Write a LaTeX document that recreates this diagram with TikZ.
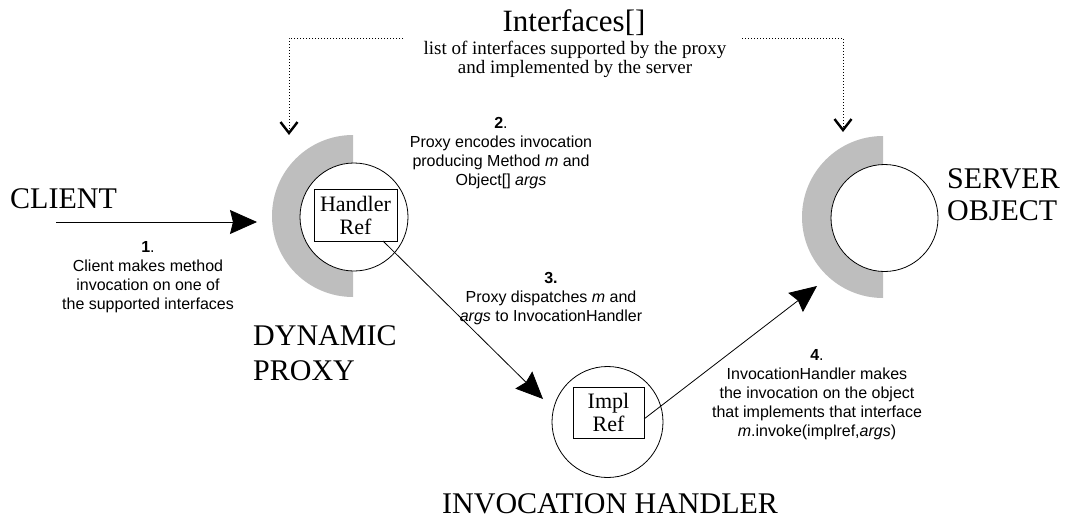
\documentclass[tikz,border=0pt]{standalone}
\usepackage{fontspec}
\setmainfont{Liberation Serif}
\setsansfont{Liberation Sans}
\usetikzlibrary{arrows.meta}
\definecolor{ringgray}{RGB}{190,190,190}
\begin{document}
\begin{tikzpicture}[x=1pt,y=-1pt,
  big/.style={font=\fontsize{30}{35}\selectfont, inner sep=0, anchor=base west},
  note/.style={font=\sffamily\fontsize{16}{19}\selectfont, inner sep=0, anchor=base},
  refbox/.style={draw, line width=0.8pt, inner sep=0, align=center, font=\fontsize{22}{23}\selectfont},
  ring/.style={circle, draw, line width=0.8pt, fill=white, inner sep=0},
  arr/.style={-{Stealth[length=27pt,width=24pt,inset=3pt]}, line width=0.8pt},
  iface/.style={dash pattern=on 1pt off 2pt, line width=0.9pt},
  vtip/.style={-{Straight Barb[length=11pt,width=17pt,line width=2.4pt]}}]
\useasboundingbox (0,0) rectangle (1065,519);

% gray half rings
\begin{scope}
  \clip (260,120) rectangle (353,310);
  \fill[ringgray] (353,216) circle[radius=81];
\end{scope}
\begin{scope}
  \clip (790,120) rectangle (883,310);
  \fill[ringgray] (883,217) circle[radius=81];
\end{scope}

% circles
\node[ring, minimum size=108pt] (proxy) at (354,217) {};
\node[ring, minimum size=107pt] (server) at (884.5,218) {};
\node[ring, minimum size=111pt] (handler) at (607.5,422) {};

% boxes
\node[refbox, minimum width=83pt, minimum height=52pt] (hbox) at (355.5,215) {Handler\\Ref};
\node[refbox, minimum width=71pt, minimum height=51pt] (ibox) at (608.5,412.5) {Impl\\Ref};

% big labels
\node[big] (client) at (10,208) {CLIENT};
\node[big] (dynproxy) at (253,345) {\begin{tabular}[t]{@{}l@{}}DYNAMIC\\PROXY\end{tabular}};
\node[big] (serverlbl) at (947,188) {\begin{tabular}[t]{@{}l@{}}SERVER\\[-3pt]OBJECT\end{tabular}};
\node[big] (ihlbl) at (442,513) {INVOCATION HANDLER};

% title
\node[font=\fontsize{31}{34}\selectfont, anchor=base, inner sep=0] (title) at (574,32) {Interfaces[]};
\node[font=\fontsize{19}{19}\selectfont, anchor=base, inner sep=0] (sub) at (575,55)
  {\begin{tabular}[t]{@{}c@{}}list of interfaces supported by the proxy\\and implemented by the server\end{tabular}};

% notes
\node[note] (n1) at (148,252) {\begin{tabular}[t]{@{}c@{}}\textbf{1}.\\Client makes method\\invocation on one of\\the supported interfaces\end{tabular}};
\node[note] (n2) at (501,128) {\begin{tabular}[t]{@{}c@{}}\textbf{2}.\\Proxy encodes invocation\\producing Method \textit{m} and\\Object[] \textit{args}\end{tabular}};
\node[note] (n3) at (551,283) {\begin{tabular}[t]{@{}c@{}}\textbf{3.}\\Proxy dispatches \textit{m} and\\\textit{args} to InvocationHandler\end{tabular}};
\node[note] (n4) at (817,360) {\begin{tabular}[t]{@{}c@{}}\textbf{4}.\\InvocationHandler makes\\the invocation on the object\\that implements that interface\\\textit{m}.invoke(implref,\textit{args})\end{tabular}};

% connectors
\coordinate (c1s) at (56,222);
\coordinate (c1e) at (257,222);
\draw[arr] (c1s) -- (c1e);

\coordinate (c3s) at (383,241);
\coordinate (c3e) at (543,399);
\draw[arr] (c3s) -- (c3e);

\coordinate (c4s) at (644,419);
\coordinate (c4e) at (817,286);
\draw[arr] (c4s) -- (c4e);

% interface dotted pointers
\coordinate (d1s) at (403,38);
\coordinate (d1e) at (289,135);
\draw[iface, vtip] (d1s) -| (d1e);
\coordinate (d2s) at (742,38);
\coordinate (d2e) at (843,132);
\draw[iface, vtip] (d2s) -| (d2e);
\end{tikzpicture}
\end{document}
